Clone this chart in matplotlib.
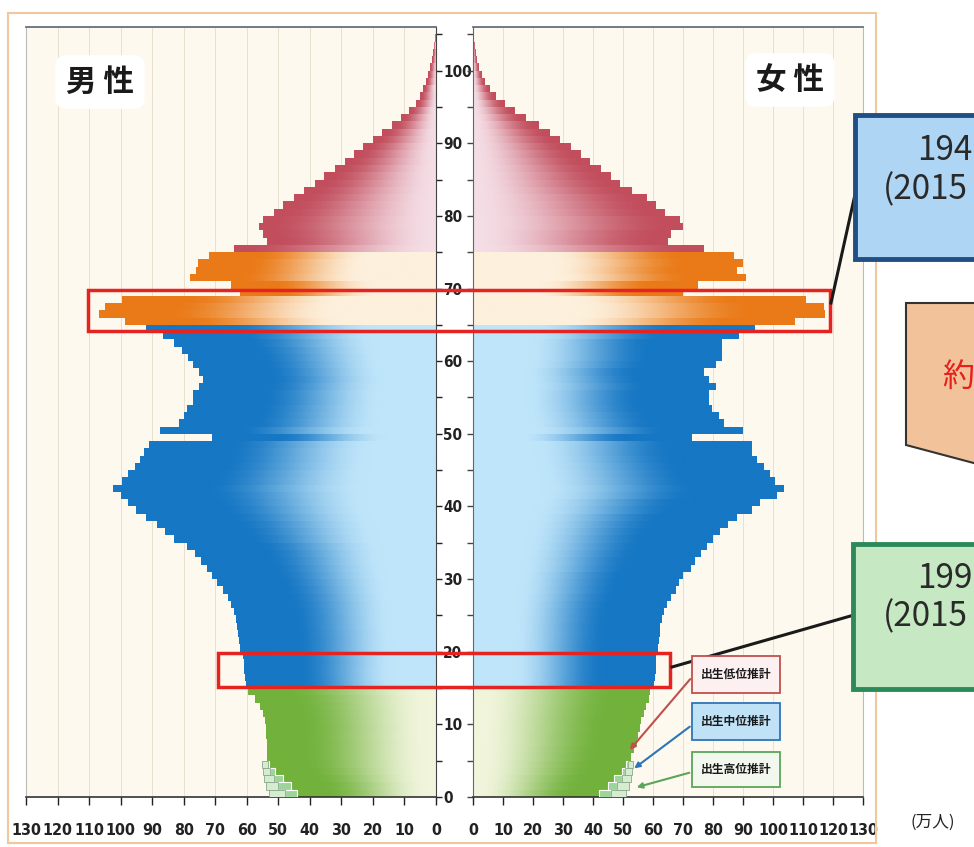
import numpy as np
import matplotlib
matplotlib.use('Agg')
import matplotlib.pyplot as plt
import matplotlib.transforms as mtransforms
from matplotlib.patches import Rectangle, Polygon, FancyArrowPatch
from matplotlib.lines import Line2D
from matplotlib.colors import to_rgb

plt.rcParams['font.family'] = ['DejaVu Sans']
JP = ['Noto Sans CJK JP', 'DejaVu Sans']

# ---- data (万人) ----
ages = np.arange(0, 106)

# male, ages 0-105 (ages 0-4: 出生低位推計)
male = [44, 46, 48.5, 51, 53,
        53.6, 53.6, 53.6, 53.8, 54, 54.2, 54.8, 55.8, 57.5, 59.6,
        60.3, 60.5, 60.8, 61, 61.3, 62, 62.5, 62.8, 63, 63.3,
        64, 65, 65.8, 67.5, 69.5, 71, 72.5, 74.5, 76.5, 79,
        83, 86, 88.6, 92, 95, 97.6, 100, 102.4, 99.6, 97.5,
        95.5, 94, 92.5, 91, 71, 87.5, 81.5, 80, 79, 77,
        77, 75, 74, 75, 77, 78.6, 80.5, 83, 86.5, 92,
        98.6, 107, 105, 99.5, 62, 65, 78, 76, 75.5, 72,
        64, 53.5, 55, 56, 55, 51.5, 48.5, 45, 42, 38.5,
        35.5, 32, 29, 26, 23, 20, 17, 14, 11, 8.5,
        6.5, 5.2, 4.1, 3.3, 2.6, 2.0, 1.4, 1.0, 0.6, 0.35, 0.15]

# female, ages 0-105
female = [42, 45, 47, 49.5, 51,
          52.5, 53.5, 54.5, 55, 55.5, 56, 57, 57.5, 58.5, 59,
          60.3, 60.5, 60.7, 60.7, 60.7, 61.5, 62, 62.3, 62.3, 62.8,
          63.5, 64.6, 66, 67.5, 68.5, 70, 72.5, 74, 75.7, 78,
          80, 82.3, 85, 88, 93, 95.6, 101.2, 103.4, 100.6, 99,
          96.8, 94.6, 93, 93, 73, 90, 83.4, 81.7, 79.6, 78.4,
          78.4, 80.7, 78.4, 76.8, 80.7, 83, 83, 83, 88.5, 94,
          107.3, 117.3, 116.7, 110.7, 70, 74.7, 90.7, 88, 90, 86.7,
          77, 65, 66, 70, 69, 64, 61, 58, 53, 49,
          46, 42.5, 39, 36, 32.5, 29, 25.5, 22, 17.5, 14,
          10.5, 7.5, 5.5, 4, 2.8, 1.8, 1.2, 0.8, 0.4, 0.2, 0.1]

# birth projections for ages 0-4
proj_ages = [0, 1, 2, 3, 4]
male_mid = [48, 50, 51.5, 52.5, 53.3]
male_high = [53, 54, 54.5, 55, 55.3]
female_mid = [46, 48, 49.5, 50.5, 51.5]
female_high = [51, 52, 52.5, 53, 53.3]

proj_labels = ['出生低位推計', '出生中位推計', '出生高位推計']
xticks = list(range(0, 131, 10))

# ---- styles ----
W, H = 974, 847


def fx(x):
    return x / W


def fy(y):
    return 1 - y / H


def group_style(age):
    # inner colour, outer colour, ramp start, ramp end
    if age < 15:
        return '#f1f5dc', '#72b23c', 0.05, 0.80
    if age < 65:
        return '#bfe5fa', '#1677c4', 0.22, 0.72
    if age < 75:
        return '#fdf0dc', '#ea7a18', 0.30, 0.80
    return '#f5dee6', '#c24e5d', 0.0, 0.95


def draw_side(ax, values):
    t = np.linspace(0, 1, 200)
    for age, v in zip(ages, values):
        inner, outer, t0, t1 = group_style(age)
        bar = ax.barh(age, v, height=1.0, align='edge', color=outer,
                      linewidth=0, zorder=2)[0]
        s = np.clip((t - t0) / (t1 - t0), 0, 1)
        s = s * s * (3 - 2 * s)
        ci = np.array(to_rgb(inner))
        co = np.array(to_rgb(outer))
        rgb = ci[None, :] * (1 - s[:, None]) + co[None, :] * s[:, None]
        im = ax.imshow(rgb[None, :, :], extent=[0, v, age, age + 1],
                       aspect='auto', interpolation='bilinear', zorder=2.5)
        im.set_clip_path(bar)


def draw_proj(ax, low, mid, high):
    low = [low[a] for a in proj_ages]
    ax.barh(proj_ages, np.array(mid) - np.array(low), left=low, height=1.0,
            align='edge', color='#9dd49a', edgecolor='white', linewidth=0.8, zorder=3)
    ax.barh(proj_ages, np.array(high) - np.array(mid), left=mid, height=1.0,
            align='edge', color='#d6ecd0', edgecolor='#8aa88a', linewidth=0.6, zorder=3)


def style_axes(ax):
    ax.set_facecolor('#fdf9ee')
    ax.set_ylim(0, 106)
    ax.set_xticks(xticks)
    ax.grid(axis='x', color='#e8e1d0', linewidth=0.7)
    ax.set_axisbelow(True)
    ax.tick_params(axis='x', direction='out', length=6, width=1, pad=13,
                   labelsize=11.5, colors='#222')
    for lab in ax.get_xticklabels():
        lab.set_fontweight('bold')
        lab.set_fontstretch('condensed')
    ax.spines['top'].set_color('#5a6474')
    ax.spines['top'].set_linewidth(1.2)
    ax.spines['bottom'].set_color('#333333')
    ax.spines['bottom'].set_linewidth(1.2)
    ax.set_yticks(range(0, 101, 10))
    ax.set_yticks(range(5, 106, 10), minor=True)


fig = plt.figure(figsize=(9.74, 8.47), dpi=100)
fig.patch.set_facecolor('white')

axL = fig.add_axes([fx(26), fy(797), fx(436) - fx(26), fy(27) - fy(797)])
axR = fig.add_axes([fx(473), fy(797), fx(863) - fx(473), fy(27) - fy(797)])

draw_side(axL, male)
draw_side(axR, female)
draw_proj(axL, male, male_mid, male_high)
draw_proj(axR, female, female_mid, female_high)

for ax in (axL, axR):
    style_axes(ax)

axL.set_xlim(130, 0)
axR.set_xlim(0, 130)

# age axis between the panels
axL.yaxis.tick_right()
axL.tick_params(axis='y', which='both', direction='out', length=4, width=1,
                pad=1, labelsize=11, colors='#222')
for lab in axL.get_yticklabels():
    lab.set_fontweight('bold')
    lab.set_fontstretch('condensed')
axL.spines['right'].set_color('#444444')
axL.spines['left'].set_color('#bbbbbb')
axL.spines['left'].set_linewidth(0.8)

axR.tick_params(axis='y', which='both', direction='out', length=4, width=1,
                labelleft=False, colors='#444')
axR.spines['left'].set_color('#666666')
axR.spines['right'].set_color('#bbbbbb')
axR.spines['right'].set_linewidth(0.8)

# panel titles
fig.text(fx(100), fy(82), '男 性', ha='center', va='center', fontsize=22,
         fontweight='bold', family=JP, color='#1a1a1a', zorder=5,
         bbox=dict(boxstyle='round,pad=0.35', fc='white', ec='none'))
fig.text(fx(790), fy(80), '女 性', ha='center', va='center', fontsize=22,
         fontweight='bold', family=JP, color='#1a1a1a', zorder=5,
         bbox=dict(boxstyle='round,pad=0.35', fc='white', ec='none'))

fig.text(fx(910), fy(822), '(万人)', ha='left', va='center', fontsize=12,
         family=JP, color='#222')

# outer frame
fig.add_artist(Rectangle((fx(8), fy(843)), fx(876) - fx(8), fy(13) - fy(843),
                         transform=fig.transFigure, fill=False,
                         edgecolor='#f2c79c', linewidth=1.5, zorder=1))

# red highlight boxes (y in ages)
trans = mtransforms.blended_transform_factory(fig.transFigure, axL.transData)
fig.add_artist(Rectangle((fx(88), 64.1), fx(830) - fx(88), 69.8 - 64.1,
                         transform=trans, fill=False, edgecolor='#e52421',
                         linewidth=2.5, zorder=6))
fig.add_artist(Rectangle((fx(218), 15.1), fx(670) - fx(218), 19.8 - 15.1,
                         transform=trans, fill=False, edgecolor='#e52421',
                         linewidth=2.5, zorder=6))

# connector lines
fig.add_artist(Line2D([fx(831), fx(856)], [fy(303), fy(190)],
                      transform=fig.transFigure, color='#1a1a1a', lw=2.2, zorder=6))
fig.add_artist(Line2D([fx(672), fx(854)], [fy(667), fy(615)],
                      transform=fig.transFigure, color='#1a1a1a', lw=2.2, zorder=6))

# callout boxes on the right (cut off at the edge)
fig.add_artist(Rectangle((fx(855), fy(259)), fx(1000) - fx(855), fy(115) - fy(259),
                         transform=fig.transFigure, facecolor='#aed6f4',
                         edgecolor='#1f4f85', linewidth=3.5, zorder=6))
fig.text(fx(917), fy(150), '194', ha='left', va='center', fontsize=24,
         family=JP, color='#2a2a2a', zorder=7)
fig.text(fx(883), fy(190), '(2015', ha='left', va='center', fontsize=24,
         family=JP, color='#2a2a2a', zorder=7)

fig.add_artist(Polygon([(fx(906), fy(303)), (fx(1000), fy(303)),
                        (fx(1000), fy(470)), (fx(906), fy(445))],
                       closed=True, transform=fig.transFigure,
                       facecolor='#f2c39a', edgecolor='#333333', linewidth=1.5, zorder=6))
fig.text(fx(942), fy(377), '約', ha='left', va='center', fontsize=23,
         family=JP, color='#e8201c', zorder=7)

fig.add_artist(Rectangle((fx(853), fy(689)), fx(1000) - fx(853), fy(544) - fy(689),
                         transform=fig.transFigure, facecolor='#c6e8c2',
                         edgecolor='#2c8a5a', linewidth=3.5, zorder=6))
fig.text(fx(917), fy(579), '199', ha='left', va='center', fontsize=24,
         family=JP, color='#2a2a2a', zorder=7)
fig.text(fx(883), fy(617), '(2015', ha='left', va='center', fontsize=24,
         family=JP, color='#2a2a2a', zorder=7)

# projection labels with arrows
proj_boxes = [(656, 693, '#fdf0f0', '#c0504d'),
              (703, 740, '#bfe2f6', '#2e75b6'),
              (752, 787, '#f3f8ef', '#5aa55a')]
arrow_ends = [((692, 677), (628, 752)),
              ((692, 725), (632, 770)),
              ((692, 772), (634, 788))]
for lab, (y0, y1, fc, ec), (p0, p1) in zip(proj_labels, proj_boxes, arrow_ends):
    fig.add_artist(Rectangle((fx(692), fy(y1)), fx(780) - fx(692), fy(y0) - fy(y1),
                             transform=fig.transFigure, facecolor=fc,
                             edgecolor=ec, linewidth=1.3, zorder=6))
    fig.text(fx(736), fy((y0 + y1) / 2), lab, ha='center', va='center',
             fontsize=8.5, fontweight='bold', family=JP, color='#1a1a1a', zorder=7)
    fig.add_artist(FancyArrowPatch((fx(p0[0]), fy(p0[1])), (fx(p1[0]), fy(p1[1])),
                                   transform=fig.transFigure, arrowstyle='-|>',
                                   mutation_scale=8, color=ec, lw=1.5, zorder=6))

fig.savefig('out.png', dpi=100, facecolor='white')
